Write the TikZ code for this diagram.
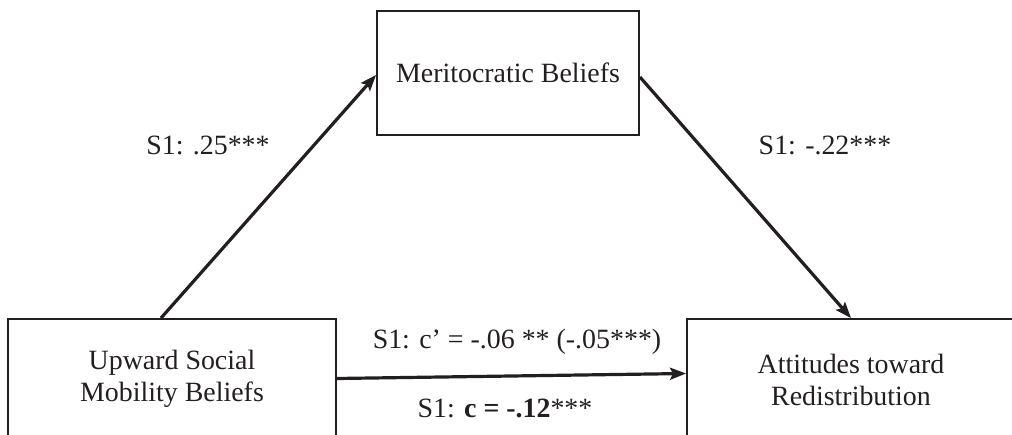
\documentclass[tikz,border=0pt]{standalone}
\usepackage{fontspec}
\setmainfont{Liberation Serif}
\usetikzlibrary{arrows.meta,calc}
\definecolor{ink}{HTML}{231F20}
\begin{document}
\begin{tikzpicture}[x=1pt,y=-1pt,
  box/.style={draw=ink, line width=1.9pt, inner sep=0pt, align=center, text=ink, font=\fontsize{27.9}{32}\selectfont},
  lab/.style={text=ink, inner sep=0pt, font=\fontsize{27.9}{32}\selectfont},
  arr/.style={draw=ink, line width=3.2pt, -{Stealth[length=16pt,width=12pt,inset=3pt]}}]
\useasboundingbox (0,0) rectangle (1012,435);
\clip (0,0) rectangle (1012,435);
\node[box, minimum width=262pt, minimum height=124pt] (M) at (508,73) {Meritocratic Beliefs};
\node[box, minimum width=328pt, minimum height=119pt] (L) at (172,378.5) {Upward Social\\Mobility Beliefs};
\node[box, minimum width=328pt, minimum height=121pt] (R) at (851,379.5) {Attitudes toward\\Redistribution};
\draw[arr] ([xshift=-11pt]L.north) -- ([yshift=-2pt]M.west);
\draw[arr] ([yshift=-4pt]M.east) -- (R.north);
\draw[arr] (L.east) -- ([yshift=6pt]R.west);
\node[lab] (a) at (208,145) {S1: .25***};
\node[lab] (b) at (825,145) {S1: -.22***};
\node[lab] (cp) at (517,342) {S1: c’ = -.06 ** (-.05***)};
\node[lab] (c) at (505,408) {S1: \textbf{c = -.12}***};
\end{tikzpicture}
\end{document}
